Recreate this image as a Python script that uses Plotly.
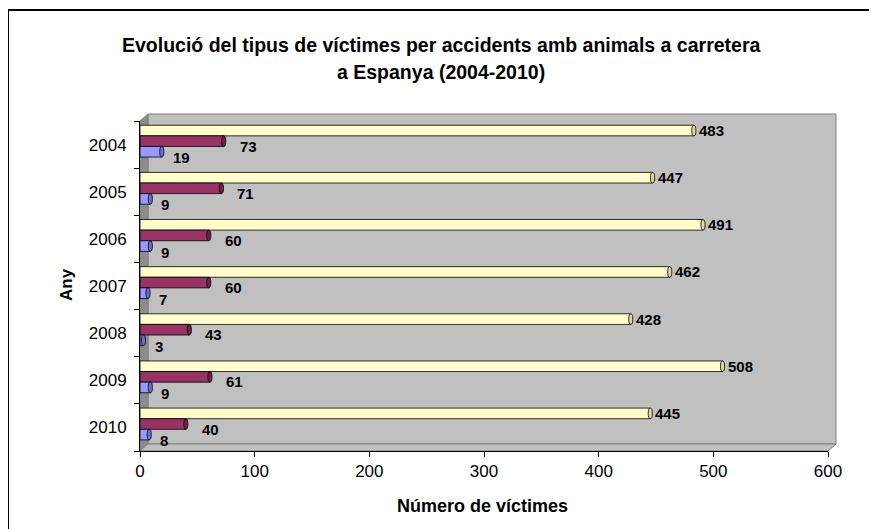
import plotly.graph_objects as go

years = ["2004", "2005", "2006", "2007", "2008", "2009", "2010"]
serie_groc = [483, 447, 491, 462, 428, 508, 445]
serie_grana = [73, 71, 60, 60, 43, 61, 40]
serie_blau = [19, 9, 9, 7, 3, 9, 8]

x_ticks = [0, 100, 200, 300, 400, 500, 600]

FONT = "Liberation Sans, Arial, sans-serif"
OFF = 8  # page body margin
W, H = 877 - OFF, 529 - OFF
# plot area in screen pixels
X0, X1, Y0, Y1 = 140, 828, 121, 451
L, R, T, B = X0 - OFF, W - (X1 - OFF), Y0 - OFF, H - (Y1 - OFF)
PW, PH = X1 - X0, Y1 - Y0


def px(x):
    return (x - X0) / PW


def py(y):
    return (Y1 - y) / PH


pos = list(range(len(years)))
bar_w = 0.225
series = [
    (serie_groc, "#FFFFCC", "#D9D9A6", -0.41, 1, 0),
    (serie_grana, "#993366", "#6B2347", -0.185, 12, -5),
    (serie_blau, "#9999FF", "#6E6ED0", 0.04, 7, -6),
]

fig = go.Figure()
shapes = []
annotations = []

# 3D walls
shapes.append(dict(type="path", xref="paper", yref="paper", layer="below",
                   path=f"M {px(148)},{py(444)} L {px(836)},{py(444)} L {px(836)},{py(114)} L {px(148)},{py(114)} Z",
                   fillcolor="#C0C0C0", line=dict(color="#808080", width=1)))
shapes.append(dict(type="path", xref="paper", yref="paper", layer="below",
                   path=f"M {px(140)},{py(451)} L {px(140)},{py(121)} L {px(148)},{py(114)} L {px(148)},{py(444)} Z",
                   fillcolor="#8C8C8C", line=dict(color="#808080", width=1)))
shapes.append(dict(type="path", xref="paper", yref="paper", layer="below",
                   path=f"M {px(140)},{py(451)} L {px(148)},{py(444)} L {px(836)},{py(444)} L {px(828)},{py(451)} Z",
                   fillcolor="#C0C0C0", line=dict(color="#808080", width=1)))

cap = 1.8
for vals, col, capcol, off, xs, ys in series:
    fig.add_trace(go.Bar(
        y=pos, x=vals, orientation="h", width=bar_w, offset=off,
        marker=dict(color=col, line=dict(color="#000000", width=0.8)),
        hoverinfo="x", showlegend=False,
    ))
    for i, v in zip(pos, vals):
        shapes.append(dict(type="circle", xref="x", yref="y",
                           x0=v - cap, x1=v + cap, y0=i + off, y1=i + off + bar_w,
                           fillcolor=capcol, line=dict(color="#000000", width=0.8)))
        annotations.append(dict(x=v + cap, y=i + off + bar_w / 2, xref="x", yref="y",
                                text=f"<b>{v}</b>", showarrow=False, xanchor="left",
                                yanchor="middle", xshift=xs, yshift=ys,
                                font=dict(family=FONT, size=15, color="#000000")))

# outer border
shapes.append(dict(type="rect", xref="paper", yref="paper",
                   x0=px(8), y0=py(10), x1=px(1000), y1=py(700),
                   line=dict(color="#000000", width=2), fillcolor="rgba(0,0,0,0)"))

annotations += [
    dict(x=px(441), y=py(45), xref="paper", yref="paper", showarrow=False,
         text="<b>Evolució del tipus de víctimes per accidents amb animals a carretera</b>",
         font=dict(family=FONT, size=19.5, color="#000000"), xanchor="center", yanchor="middle"),
    dict(x=px(441), y=py(72), xref="paper", yref="paper", showarrow=False,
         text="<b>a Espanya (2004-2010)</b>",
         font=dict(family=FONT, size=19.5, color="#000000"), xanchor="center", yanchor="middle"),
    dict(x=px(482), y=py(506), xref="paper", yref="paper", showarrow=False,
         text="<b>Número de víctimes</b>",
         font=dict(family=FONT, size=18, color="#000000"), xanchor="center", yanchor="middle"),
    dict(x=px(66), y=py(285), xref="paper", yref="paper", showarrow=False,
         text="<b>Any</b>", textangle=-90,
         font=dict(family=FONT, size=17, color="#000000"), xanchor="center", yanchor="middle"),
]

fig.update_layout(
    width=W, height=H,
    margin=dict(l=L, r=R, t=T, b=B, pad=0),
    paper_bgcolor="#FFFFFF", plot_bgcolor="rgba(0,0,0,0)",
    barmode="overlay",
    shapes=shapes, annotations=annotations,
    font=dict(family=FONT, color="#000000"),
    xaxis=dict(range=[0, 600], tickvals=x_ticks, ticktext=[str(t) for t in x_ticks],
               showgrid=False, zeroline=False, showline=True, linecolor="#000000", linewidth=1,
               ticks="outside", ticklen=5, tickcolor="#000000",
               tickfont=dict(family=FONT, size=17, color="#000000"), ticklabelstandoff=0),
    yaxis=dict(range=[6.5, -0.5], tickvals=pos, ticktext=years,
               showgrid=False, zeroline=False, showline=True, linecolor="#000000", linewidth=1,
               ticks="", tickfont=dict(family=FONT, size=17, color="#000000"), ticklabelstandoff=9,
               minor=dict(tickvals=[p - 0.5 for p in pos] + [6.5], ticks="outside", ticklen=5,
                          tickcolor="#000000", showgrid=False)),
)

fig.write_html("out.html")
